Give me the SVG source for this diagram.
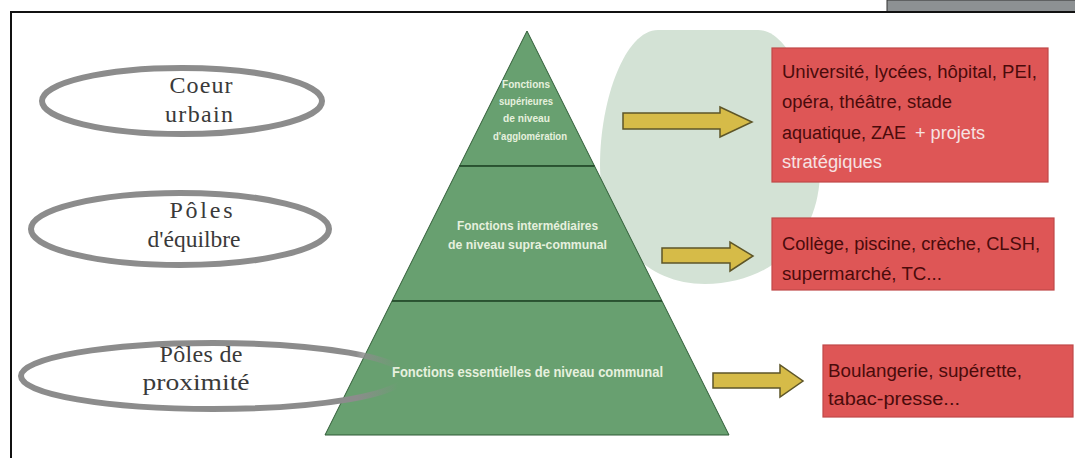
<svg xmlns="http://www.w3.org/2000/svg" width="1075" height="458" viewBox="0 0 1075 458">
<style>
.ell{fill:none;stroke:#8c8c8c;stroke-width:6}
.etx{font-family:"Liberation Serif",serif;font-size:24px;fill:#3a3a3a;text-anchor:middle}
.tier{fill:#68a070;stroke:#2f5b36;stroke-width:1}
.ptx{font-family:"Liberation Sans",Arial,sans-serif;font-weight:bold;fill:#e6f0de;text-anchor:start}
.box{fill:#de5656;stroke:#c04848;stroke-width:1.2}
.btx{font-family:"Liberation Sans",Arial,sans-serif;font-size:18px;fill:#4a0b0b}
.btl{font-family:"Liberation Sans",Arial,sans-serif;font-size:18px;fill:#f6e2e2}
.arr{fill:#d6bb48;stroke:#5e5628;stroke-width:1.5;stroke-linejoin:miter}
</style>
<defs>
<linearGradient id="fade3" gradientUnits="userSpaceOnUse" x1="356" y1="0" x2="398" y2="0">
<stop offset="0" stop-color="#8c8c8c" stop-opacity="1"/>
<stop offset="1" stop-color="#8c8c8c" stop-opacity="0"/>
</linearGradient>
</defs>
<rect x="0" y="0" width="1075" height="458" fill="#ffffff"/>
<g id="frame">
<rect x="887" y="0" width="190" height="12" fill="#8d9193" stroke="#333" stroke-width="1"/>
<path d="M11,460 V12 H1077" fill="none" stroke="#111" stroke-width="2"/>
</g>
<g id="halo">
<path d="M658,30 L758,30 C790,30 820,100 820,170 C820,240 770,284 705,284 C640,284 600,230 600,165 C600,100 625,30 658,30 Z" fill="#d3e2d5"/>
</g>
<g id="ellipse-coeur">
<ellipse class="ell" cx="182" cy="101" rx="140" ry="33"/>
<text class="etx" x="201" y="93" textLength="63" lengthAdjust="spacing">Coeur</text>
<text class="etx" x="199" y="122" textLength="68" lengthAdjust="spacing">urbain</text>
</g>
<g id="ellipse-poles">
<ellipse class="ell" cx="180" cy="229" rx="149" ry="36"/>
<text class="etx" x="201" y="218" textLength="63" lengthAdjust="spacing">Pôles</text>
<text class="etx" x="194" y="247" textLength="93" lengthAdjust="spacingAndGlyphs">d'équilbre</text>
</g>
<g id="pyramid-top">
<polygon class="tier" points="527,31 459.5,166 594.5,166"/>
<text class="ptx" x="502" y="88" font-size="11" textLength="48" lengthAdjust="spacingAndGlyphs">Fonctions</text>
<text class="ptx" x="499" y="105" font-size="11" textLength="54" lengthAdjust="spacingAndGlyphs">supérieures</text>
<text class="ptx" x="503" y="122" font-size="11" textLength="47" lengthAdjust="spacingAndGlyphs">de niveau</text>
<text class="ptx" x="493" y="140" font-size="11" textLength="74" lengthAdjust="spacingAndGlyphs">d'agglomération</text>
</g>
<g id="pyramid-middle">
<polygon class="tier" points="459.5,166 594.5,166 662,301 392,301"/>
<text class="ptx" x="457" y="230" font-size="12.5" textLength="141" lengthAdjust="spacingAndGlyphs">Fonctions intermédiaires</text>
<text class="ptx" x="448" y="249" font-size="12.5" textLength="159" lengthAdjust="spacingAndGlyphs">de niveau supra-communal</text>
</g>
<g id="pyramid-base">
<polygon class="tier" points="392,301 662,301 729,435 325,435"/>
<text class="ptx" x="392" y="377" font-size="14" textLength="271" lengthAdjust="spacingAndGlyphs">Fonctions essentielles de niveau communal</text>
</g>
<g id="dividers">
<line x1="459.5" y1="166" x2="594.5" y2="166" stroke="#234a2a" stroke-width="1.6"/>
<line x1="392" y1="301" x2="662" y2="301" stroke="#234a2a" stroke-width="1.6"/>
</g>
<g id="ellipse-proximite">
<ellipse cx="213" cy="376" rx="192" ry="33" fill="none" stroke="url(#fade3)" stroke-width="6"/>
<text class="etx" x="201" y="362" textLength="83" lengthAdjust="spacing">Pôles de</text>
<text class="etx" x="196" y="390" textLength="107" lengthAdjust="spacingAndGlyphs">proximité</text>
</g>
<g id="connectors">
<path class="arr" d="M623,113 H720 V107 L752,122 L720,137 V129 H623 Z"/>
<path class="arr" d="M662,248 H730 V242 L753,256 L730,271 V263 H662 Z"/>
<path class="arr" d="M713,373 H780 V365 L803,381 L780,397 V388 H713 Z"/>
</g>
<g id="box-agglo">
<rect class="box" x="772" y="48" width="276" height="134"/>
<text class="btx" x="782" y="78" textLength="255" lengthAdjust="spacingAndGlyphs">Université, lycées, hôpital, PEI,</text>
<text class="btx" x="782" y="108" textLength="170" lengthAdjust="spacingAndGlyphs">opéra, théâtre, stade</text>
<text class="btx" x="782" y="139" textLength="124" lengthAdjust="spacingAndGlyphs">aquatique, ZAE</text>
<text class="btl" x="915" y="139" textLength="70" lengthAdjust="spacingAndGlyphs">+ projets</text>
<text class="btl" x="782" y="168" textLength="100" lengthAdjust="spacingAndGlyphs">stratégiques</text>
</g>
<g id="box-supra">
<rect class="box" x="772" y="218" width="282" height="72"/>
<text class="btx" x="782" y="250" textLength="258" lengthAdjust="spacingAndGlyphs">Collège, piscine, crèche, CLSH,</text>
<text class="btx" x="782" y="280" textLength="160" lengthAdjust="spacingAndGlyphs">supermarché, TC...</text>
</g>
<g id="box-communal">
<rect class="box" x="823" y="345" width="250" height="72"/>
<text class="btx" x="828" y="377" textLength="194" lengthAdjust="spacingAndGlyphs">Boulangerie, supérette,</text>
<text class="btx" x="828" y="405" textLength="132" lengthAdjust="spacingAndGlyphs">tabac-presse...</text>
</g>
</svg>
